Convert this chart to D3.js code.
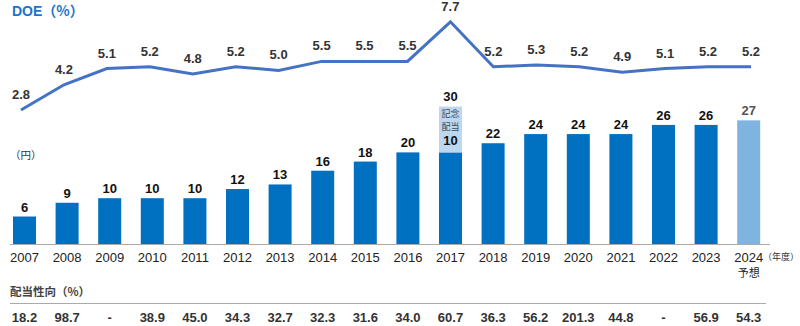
<!DOCTYPE html>
<html>
<head>
<meta charset="utf-8">
<script src="https://cdn.jsdelivr.net/npm/d3@7"></script>
<style>
  body { margin: 0; background: #fff; }
  text { font-family: "Liberation Sans", Arial, "Noto Sans CJK JP", sans-serif; }
  .jp { font-family: "Noto Sans CJK JP", sans-serif; }
</style>
</head>
<body>
<div id="chart"></div>
<script>
// data
const years = ['2007','2008','2009','2010','2011','2012','2013','2014','2015','2016','2017','2018','2019','2020','2021','2022','2023','2024'];
const dividend = [6, 9, 10, 10, 10, 12, 13, 16, 18, 20, 20, 22, 24, 24, 24, 26, 26, 27];
const memorial = [0, 0, 0, 0, 0, 0, 0, 0, 0, 0, 10, 0, 0, 0, 0, 0, 0, 0];
const doe = [2.8, 4.2, 5.1, 5.2, 4.8, 5.2, 5.0, 5.5, 5.5, 5.5, 7.7, 5.2, 5.3, 5.2, 4.9, 5.1, 5.2, 5.2];
const payout = ['18.2','98.7','-','38.9','45.0','34.3','32.7','32.3','31.6','34.0','60.7','36.3','56.2','201.3','44.8','-','56.9','54.3'];

const dimensions = { width: 800, height: 326 };

const svg = d3.select('#chart')
    .append('svg')
    .attr('width', dimensions.width)
    .attr('height', dimensions.height);

// scales
const x = d3.scaleBand()
    .domain(years)
    .range([13, 760.2])
    .paddingInner(0.46)
    .paddingOuter(0);

const y = d3.scaleLinear().domain([0, 30]).range([244, 106.6]);

const xLine = d3.scalePoint().domain(years).range([21, 751]);
const yLine = d3.scaleLinear().domain([0, 8]).range([160.4, 16.4]);

const barColor = '#0070c0';
const forecastColor = '#7eb4df';
const memorialColor = '#bdd7ee';

// bars
svg.append('g').selectAll('rect')
    .data(years)
    .join('rect')
    .attr('x', d => x(d))
    .attr('width', x.bandwidth())
    .attr('y', (d, i) => y(dividend[i]))
    .attr('height', (d, i) => y(0) - y(dividend[i]))
    .attr('fill', d => d === '2024' ? forecastColor : barColor);

// memorial dividend on top
const memIdx = memorial.map((m, i) => i).filter(i => memorial[i] > 0);
svg.append('g').selectAll('rect')
    .data(memIdx)
    .join('rect')
    .attr('x', i => x(years[i]))
    .attr('width', x.bandwidth())
    .attr('y', i => y(dividend[i] + memorial[i]))
    .attr('height', i => y(dividend[i]) - y(dividend[i] + memorial[i]))
    .attr('fill', memorialColor);

memIdx.forEach(i => {
    const cx = x(years[i]) + x.bandwidth() / 2;
    const top = y(dividend[i] + memorial[i]);
    svg.append('text').attr('x', cx).attr('y', top - 6)
        .attr('text-anchor', 'middle').attr('font-size', 13).attr('font-weight', 'bold')
        .attr('fill', '#111').text(dividend[i] + memorial[i]);
    svg.append('text').attr('class', 'jp').attr('x', cx).attr('y', top + 10)
        .attr('text-anchor', 'middle').attr('font-size', 9).attr('fill', '#3a4a5a').text('記念');
    svg.append('text').attr('class', 'jp').attr('x', cx).attr('y', top + 23)
        .attr('text-anchor', 'middle').attr('font-size', 9).attr('fill', '#3a4a5a').text('配当');
    svg.append('text').attr('x', cx).attr('y', y(dividend[i]) - 7)
        .attr('text-anchor', 'middle').attr('font-size', 13).attr('font-weight', 'bold')
        .attr('fill', '#111').text(memorial[i]);
});

// bar value labels
svg.append('g').selectAll('text')
    .data(years.filter((d, i) => memorial[i] === 0))
    .join('text')
    .attr('x', d => x(d) + x.bandwidth() / 2)
    .attr('y', d => y(dividend[years.indexOf(d)]) - 5)
    .attr('text-anchor', 'middle')
    .attr('font-size', 13)
    .attr('font-weight', 'bold')
    .attr('fill', d => d === '2024' ? '#555' : '#111')
    .text(d => dividend[years.indexOf(d)]);

// baseline
svg.append('line')
    .attr('x1', 10).attr('x2', 770)
    .attr('y1', y(0) + 0.5).attr('y2', y(0) + 0.5)
    .attr('stroke', '#aaa').attr('stroke-width', 1.2);

// year labels
svg.append('g').selectAll('text')
    .data(years)
    .join('text')
    .attr('x', d => x(d) + x.bandwidth() / 2)
    .attr('y', 262)
    .attr('text-anchor', 'middle')
    .attr('font-size', 13)
    .attr('fill', '#222')
    .text(d => d);

svg.append('text').attr('class', 'jp')
    .attr('x', 763).attr('y', 260).attr('font-size', 9).attr('fill', '#333').text('（年度）');
svg.append('text').attr('class', 'jp')
    .attr('x', x('2024') + x.bandwidth() / 2).attr('y', 277)
    .attr('text-anchor', 'middle').attr('font-size', 11).attr('fill', '#222').text('予想');

// unit label
svg.append('text').attr('class', 'jp')
    .attr('x', 10).attr('y', 159).attr('font-size', 10.5).attr('fill', '#333').text('（円）');

// DOE line
const line = d3.line()
    .x((d, i) => xLine(years[i]))
    .y(d => yLine(d));

svg.append('path')
    .datum(doe)
    .attr('d', line)
    .attr('fill', 'none')
    .attr('stroke', '#4472c4')
    .attr('stroke-width', 3)
    .attr('stroke-linejoin', 'miter');

svg.append('g').selectAll('text')
    .data(doe)
    .join('text')
    .attr('x', (d, i) => xLine(years[i]))
    .attr('y', d => yLine(d) - 11)
    .attr('text-anchor', 'middle')
    .attr('font-size', 13)
    .attr('font-weight', 'bold')
    .attr('fill', '#333')
    .text(d => d.toFixed(1));

// DOE title
const title = svg.append('text')
    .attr('x', 12).attr('y', 16)
    .attr('font-size', 14).attr('font-weight', 'bold')
    .attr('fill', '#1a75c9');
title.append('tspan').text('DOE');
title.append('tspan').attr('class', 'jp').text('（%）');

// payout ratio table
svg.append('text').attr('class', 'jp')
    .attr('x', 10).attr('y', 296)
    .attr('font-size', 11.5).attr('font-weight', 'bold')
    .attr('fill', '#444').text('配当性向（%）');

svg.append('line')
    .attr('x1', 10).attr('x2', 766)
    .attr('y1', 303.5).attr('y2', 303.5)
    .attr('stroke', '#aaa').attr('stroke-width', 1.2);

svg.append('g').selectAll('text')
    .data(payout)
    .join('text')
    .attr('x', (d, i) => x(years[i]) + x.bandwidth() / 2)
    .attr('y', 322)
    .attr('text-anchor', 'middle')
    .attr('font-size', 13)
    .attr('font-weight', 'bold')
    .attr('fill', '#333')
    .text(d => d);
</script>
</body>
</html>
